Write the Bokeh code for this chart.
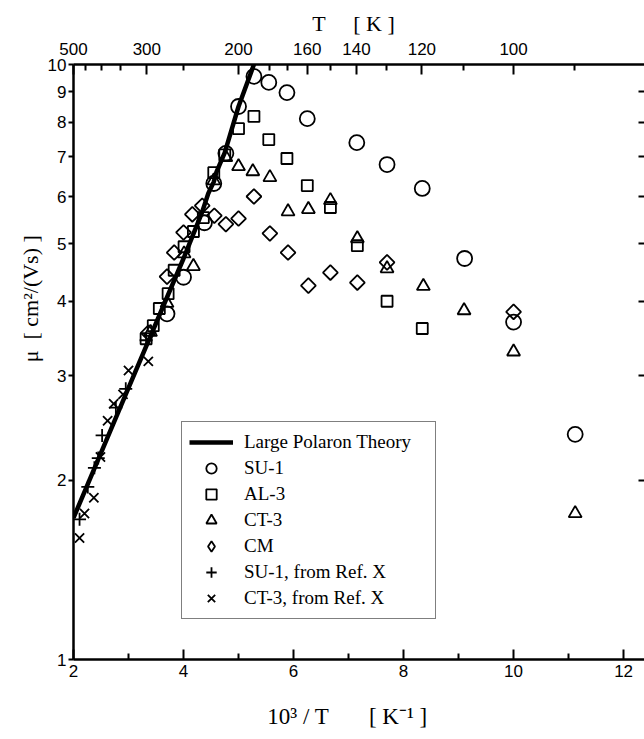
import math
from bokeh.plotting import figure
from bokeh.models import (LinearAxis, LogAxis, FixedTicker, CustomJSTickFormatter,
                          Legend, LegendItem, Range1d)
from bokeh.embed import file_html
from bokeh.resources import INLINE

# ---------------- data ----------------
theory_x = [2.0, 3.0, 4.0, 4.33, 4.45, 4.55, 4.6, 4.75, 5.0, 5.28]
theory_y = [1.73, 2.86, 4.72, 5.62, 6.07, 6.35, 6.6, 7.11, 8.5, 10.0]

su1_x = [3.70, 4.00, 4.38, 4.55, 4.77, 5.00, 5.28, 5.55, 5.88, 6.25, 7.15, 7.70, 8.34, 9.11, 10.0, 11.12]
su1_y = [3.81, 4.39, 5.42, 6.31, 7.09, 8.50, 9.55, 9.33, 8.97, 8.11, 7.39, 6.79, 6.19, 4.72, 3.69, 2.39]

al3_x = [3.32, 3.45, 3.56, 3.72, 3.83, 4.01, 4.18, 4.36, 4.55, 4.75, 5.00, 5.28, 5.55, 5.88, 6.25, 6.67, 7.16, 7.70, 8.34]
al3_y = [3.46, 3.64, 3.89, 4.12, 4.51, 4.94, 5.24, 5.53, 6.58, 7.05, 7.80, 8.18, 7.48, 6.95, 6.26, 5.75, 4.96, 4.00, 3.60]

ct3_x = [3.40, 3.70, 4.01, 4.18, 4.55, 4.77, 5.00, 5.26, 5.57, 5.90, 6.27, 6.67, 7.16, 7.70, 8.36, 9.10, 10.0, 11.12]
ct3_y = [3.55, 3.97, 4.81, 4.58, 6.38, 6.98, 6.74, 6.61, 6.46, 5.66, 5.71, 5.91, 5.10, 4.54, 4.24, 3.86, 3.29, 1.76]

cm_x = [3.36, 3.70, 3.83, 4.00, 4.16, 4.34, 4.56, 4.77, 5.00, 5.28, 5.57, 5.90, 6.27, 6.67, 7.16, 7.70, 10.0]
cm_y = [3.54, 4.40, 4.83, 5.22, 5.60, 5.79, 5.57, 5.39, 5.51, 6.00, 5.20, 4.83, 4.25, 4.47, 4.30, 4.65, 3.84]

su1ref_x = [2.11, 2.26, 2.38, 2.45, 2.52, 2.77, 2.95, 3.32]
su1ref_y = [1.72, 1.95, 2.10, 2.18, 2.38, 2.65, 2.85, 3.44]

ct3ref_x = [2.11, 2.20, 2.37, 2.49, 2.62, 2.73, 2.90, 3.00, 3.36]
ct3ref_y = [1.60, 1.76, 1.87, 2.19, 2.52, 2.69, 2.79, 3.06, 3.17]

x_major = [2, 4, 6, 8, 10, 12]
x_minor = [3, 5, 7, 9, 11]
y_ticks = [1, 2, 3, 4, 5, 6, 7, 8, 9, 10]
y_right_ticks = [2, 3, 4, 5, 6, 7, 8, 9]
T_major = [500, 300, 200, 160, 140, 120, 100]
T_minor = [450, 400, 350, 250, 180, 170, 150, 130, 110, 90]

# ---------------- figure ----------------
SANS = "Liberation Sans"
SERIF = "Liberation Serif"
NB = "\u00a0"

p = figure(width=644, height=731, x_range=Range1d(2, 12.38), y_range=Range1d(1, 10),
           y_axis_type="log", output_backend="svg", toolbar_location=None,
           min_border_left=73, min_border_top=64, min_border_right=0, min_border_bottom=60)
p.outline_line_color = None
p.xgrid.visible = False
p.ygrid.visible = False
p.background_fill_color = "white"
p.border_fill_color = "white"

def style_axis(ax):
    ax.axis_line_width = 2.5
    ax.axis_line_color = "black"
    ax.major_tick_line_width = 2
    ax.minor_tick_line_width = 2
    ax.major_tick_line_color = "black"
    ax.minor_tick_line_color = "black"
    ax.major_label_text_font = SANS
    ax.major_label_text_font_size = "17px"
    ax.major_label_text_color = "black"
    ax.axis_label_text_font = SERIF
    ax.axis_label_text_font_size = "22px"
    ax.axis_label_text_font_style = "normal"
    ax.axis_label_text_color = "black"

# bottom axis
xb = p.xaxis[0]
style_axis(xb)
xb.ticker = FixedTicker(ticks=x_major, minor_ticks=x_minor)
xb.major_tick_in = 10
xb.major_tick_out = 0
xb.minor_tick_in = 6
xb.minor_tick_out = 0
xb.major_label_standoff = 5
xb.axis_label = "10³ / T" + NB * 7 + "[ K⁻¹ ]" + NB * 4
xb.axis_label_text_font_size = "23px"
xb.axis_label_standoff = 24

# left axis
yl = p.yaxis[0]
style_axis(yl)
yl.ticker = FixedTicker(ticks=y_ticks, minor_ticks=[])
yl.formatter = CustomJSTickFormatter(code="return tick.toFixed(0)")
yl.major_tick_in = 0
yl.major_tick_out = 5
yl.minor_tick_in = 0
yl.minor_tick_out = 0
yl.major_label_standoff = 2
yl.axis_label = NB * 23 + "μ" + NB + " [ cm²/(Vs) ]"
yl.axis_label_text_font_size = "22px"
yl.axis_label_standoff = 2

# top axis (temperature)
xt = LinearAxis()
style_axis(xt)
xt.ticker = FixedTicker(ticks=[1000.0 / t for t in T_major],
                        minor_ticks=[1000.0 / t for t in T_minor])
xt.formatter = CustomJSTickFormatter(code="return Math.round(1000/tick).toString()")
xt.major_tick_in = 10
xt.major_tick_out = 0
xt.minor_tick_in = 6
xt.minor_tick_out = 0
xt.major_label_standoff = 10
xt.axis_label = "T" + NB * 5 + "[ K ]" + NB * 2
xt.axis_label_standoff = 4
p.add_layout(xt, "above")

# right axis: ticks only
yr = LogAxis()
yr.ticker = FixedTicker(ticks=y_right_ticks, minor_ticks=[])
yr.formatter = CustomJSTickFormatter(code="return ''")
yr.axis_line_color = None
yr.major_tick_in = 6
yr.major_tick_out = 0
yr.major_tick_line_width = 2
yr.major_tick_line_color = "black"
yr.minor_tick_line_color = None
yr.major_label_standoff = 0
p.add_layout(yr, "right")

# ---------------- glyphs ----------------
LW = 1.8
r_th = p.line(theory_x, theory_y, line_width=4.5, line_color="black")
r_su1 = p.scatter(su1_x, su1_y, marker="circle", size=15, fill_color=None,
                  line_color="black", line_width=LW)
r_al3 = p.scatter(al3_x, al3_y, marker="square", size=11, fill_color=None,
                  line_color="black", line_width=LW)
r_ct3 = p.scatter(ct3_x, ct3_y, marker="triangle", size=13, fill_color=None,
                  line_color="black", line_width=LW)
r_cm = p.scatter(cm_x, cm_y, marker="square", angle=math.pi / 4, size=10.5, fill_color=None,
                 line_color="black", line_width=LW)
# legend-only swatch for CM (legend glyphs ignore marker angle); NaN => never drawn in plot
r_cm_leg = p.scatter([float("nan")], [float("nan")], marker="diamond", size=15,
                     fill_color=None, line_color="black", line_width=LW)
r_su1r = p.scatter(su1ref_x, su1ref_y, marker="cross", size=13,
                   line_color="black", line_width=LW)
r_ct3r = p.scatter(ct3ref_x, ct3ref_y, marker="x", size=13,
                   line_color="black", line_width=LW)

legend = Legend(items=[
    LegendItem(label="Large Polaron Theory", renderers=[r_th]),
    LegendItem(label="SU-1", renderers=[r_su1]),
    LegendItem(label="AL-3", renderers=[r_al3]),
    LegendItem(label="CT-3", renderers=[r_ct3]),
    LegendItem(label="CM", renderers=[r_cm_leg]),
    LegendItem(label="SU-1, from Ref. X", renderers=[r_su1r]),
    LegendItem(label="CT-3, from Ref. X", renderers=[r_ct3r]),
], location=(108, 40))
legend.label_text_font = SERIF
legend.label_text_font_size = "19px"
legend.label_text_color = "black"
legend.border_line_color = "black"
legend.border_line_width = 1.5
legend.background_fill_color = "white"
legend.background_fill_alpha = 1.0
legend.padding = 7
legend.spacing = 0
legend.glyph_width = 44
legend.glyph_height = 26
legend.label_height = 26
legend.label_standoff = 11
legend.label_width = 184
legend.margin = 0
p.add_layout(legend)

open("out.html", "w").write(file_html(p, INLINE))
